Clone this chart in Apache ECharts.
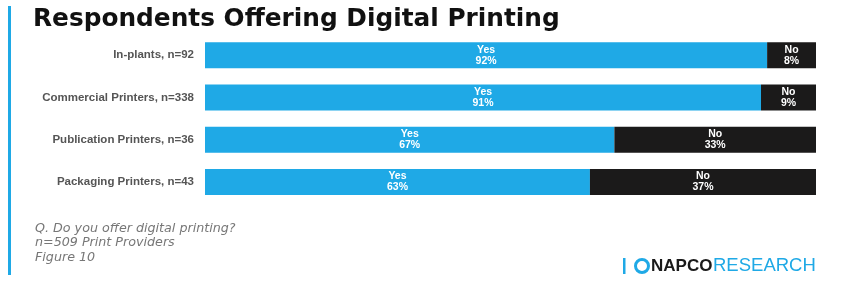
<!DOCTYPE html>
<html>
<head>
<meta charset="utf-8">
<script src="https://cdn.jsdelivr.net/npm/echarts@6/dist/echarts.min.js"></script>
<style>
  html, body { margin: 0; padding: 0; background: #fff; }
  #chart_div { width: 848px; height: 283px; }
</style>
</head>
<body>
<div id="chart_div"></div>
<script>
// chart data
const categories = [
  "In-plants, n=92",
  "Commercial Printers, n=338",
  "Publication Printers, n=36",
  "Packaging Printers, n=43"
];
const yesValues = [92, 91, 67, 63];
const noValues = [8, 9, 33, 37];
const footnotes = ["Q. Do you offer digital printing?", "n=509 Print Providers", "Figure 10"];

const BLUE = "#1fa9e6";
const DARK = "#1b1a1a";

const myChart = echarts.init(document.getElementById("chart_div"));

const barLabel = {
  show: true,
  position: "inside",
  color: "#fff",
  fontSize: 10.5,
  fontWeight: "bold",
  fontFamily: "Liberation Sans, Arial, sans-serif",
  lineHeight: 11,
  formatter: p => p.seriesName + "\n" + p.value + "%"
};

const option = {
  animation: false,
  title: {
    text: "Respondents Offering Digital Printing",
    left: 28,
    top: 2,
    textStyle: {
      fontFamily: "DejaVu Sans, sans-serif",
      fontWeight: "bold",
      fontSize: 24.8,
      color: "#111"
    }
  },
  grid: { left: 205, right: 32, top: 34, height: 169 },
  xAxis: { type: "value", min: 0, max: 100, show: false },
  yAxis: {
    type: "category",
    inverse: true,
    data: categories,
    axisLine: { show: false },
    axisTick: { show: false },
    axisLabel: {
      margin: 11,
      color: "#555",
      fontSize: 11.5,
      fontWeight: "bold",
      fontFamily: "Liberation Sans, Arial, sans-serif"
    }
  },
  series: [
    {
      name: "Yes",
      type: "bar",
      stack: "all",
      barWidth: 26,
      data: yesValues,
      itemStyle: { color: BLUE },
      label: barLabel
    },
    {
      name: "No",
      type: "bar",
      stack: "all",
      barWidth: 26,
      data: noValues,
      itemStyle: { color: DARK },
      label: barLabel
    }
  ],
  graphic: [
    // left accent rule
    { type: "rect", shape: { x: 8, y: 6, width: 3, height: 269 }, style: { fill: BLUE } },
    {
      type: "text",
      x: 35,
      y: 221,
      style: {
        text: footnotes.join("\n"),
        fill: "#777",
        fontSize: 12.7,
        lineHeight: 14.5,
        fontStyle: "italic",
        fontFamily: "DejaVu Sans, sans-serif"
      }
    },
    // logo
    { type: "rect", shape: { x: 623, y: 258, width: 2.5, height: 16 }, style: { fill: BLUE } },
    {
      type: "circle",
      shape: { cx: 642, cy: 266, r: 6.5 },
      style: { fill: "none", stroke: BLUE, lineWidth: 3 }
    },
    {
      type: "text",
      x: 651,
      y: 266,
      style: {
        text: "NAPCO",
        fill: "#1a1a1a",
        fontSize: 17,
        fontWeight: "900",
        fontFamily: "Liberation Sans, Arial, sans-serif",
        verticalAlign: "middle"
      }
    },
    {
      type: "text",
      x: 713,
      y: 266,
      style: {
        text: "RESEARCH",
        fill: BLUE,
        fontSize: 18.5,
        fontFamily: "Liberation Sans, Arial, sans-serif",
        verticalAlign: "middle"
      }
    }
  ]
};
myChart.setOption(option);
</script>
</body>
</html>
